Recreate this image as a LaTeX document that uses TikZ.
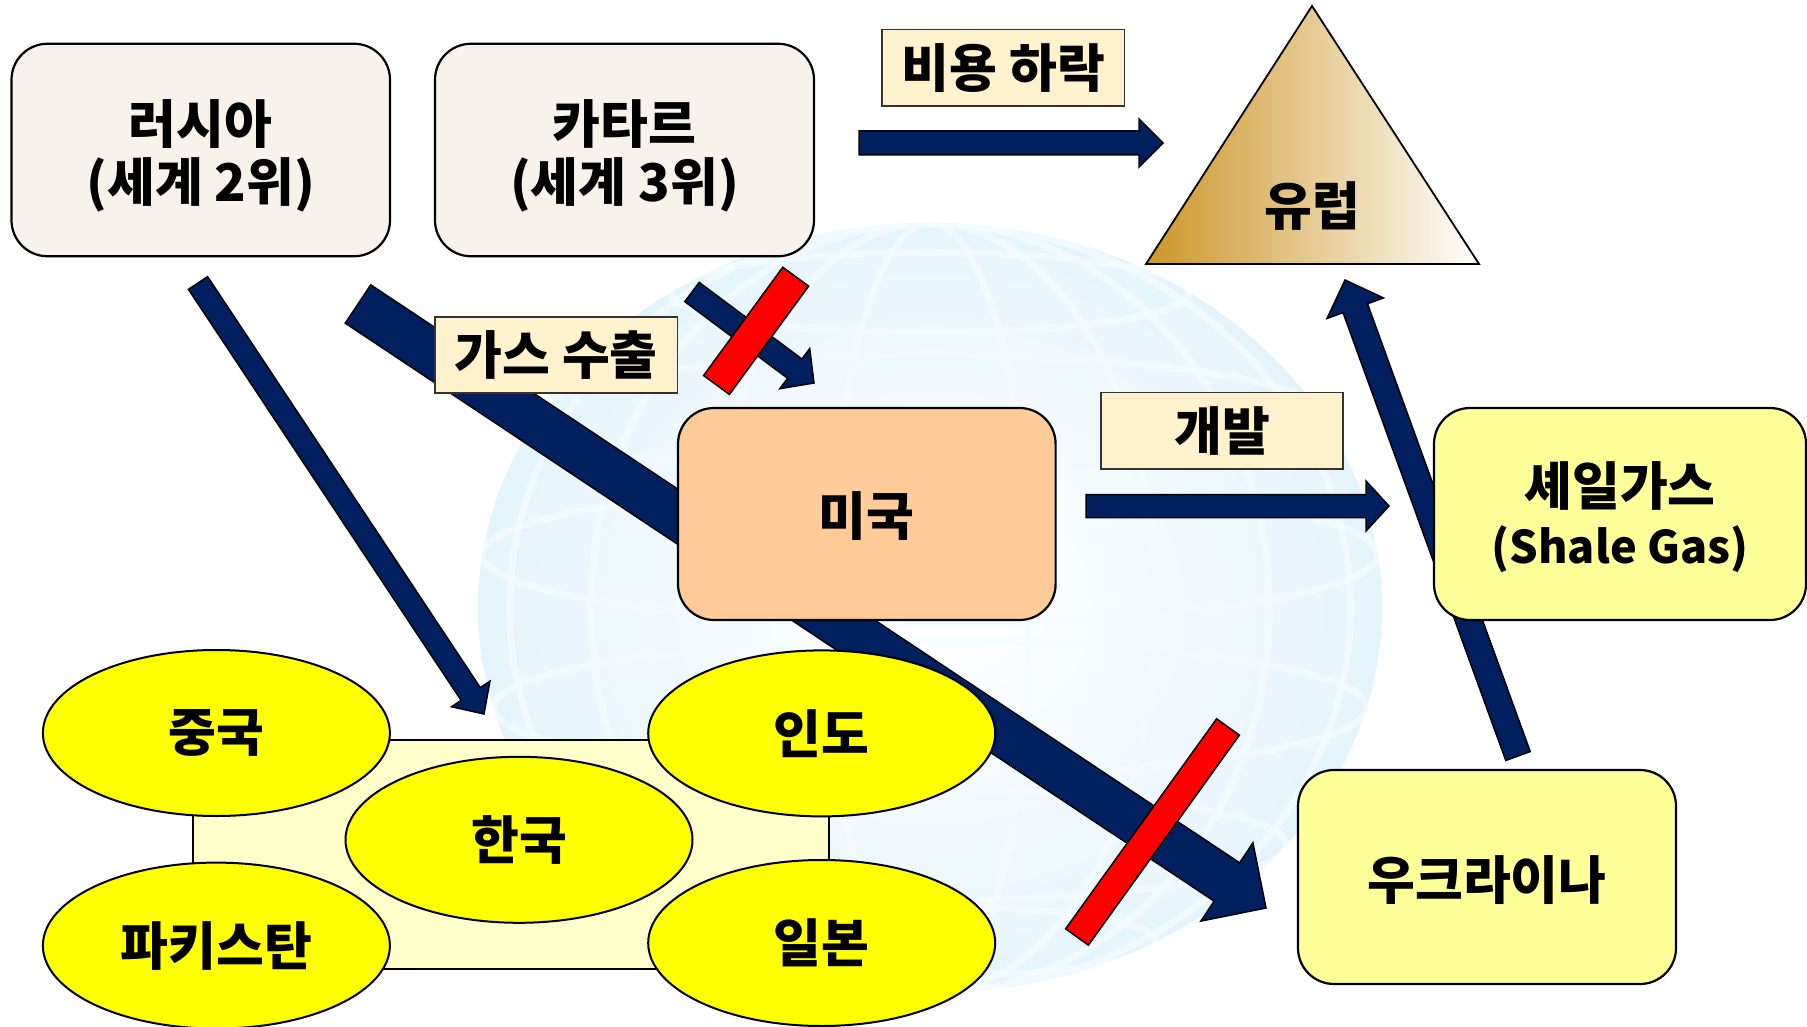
\documentclass[tikz,border=0pt]{standalone}
\usepackage{fontspec}
\setmainfont{Noto Sans CJK KR}
\newfontfamily\krheavy{Noto Sans CJK KR Black}
\usetikzlibrary{calc,shapes.geometric}
\definecolor{arrownavy}{RGB}{0,32,96}
\definecolor{srcbeige}{RGB}{247,243,236}
\definecolor{labelcream}{RGB}{255,242,204}
\definecolor{usapeach}{RGB}{255,204,153}
\definecolor{boxyellow}{RGB}{255,255,153}
\definecolor{bgyellow}{RGB}{255,255,204}
\definecolor{ellyellow}{RGB}{255,255,0}
\definecolor{eurogold}{RGB}{204,150,40}
\definecolor{globeA}{RGB}{238,248,253}
\definecolor{globeB}{RGB}{208,237,250}
\definecolor{globeline}{RGB}{245,252,255}
\pgfdeclareradialshading{globeshade}{\pgfpoint{0bp}{0bp}}{color(0bp)=(white); color(18bp)=(globeA); color(38bp)=(globeB); color(46bp)=(globeB); color(50bp)=(white); color(100bp)=(white)}
\newcommand\BArrow[6]{% id, tail, tip, half shaft, half head, head length
  \coordinate (#1-b) at ($(#3)!#6!(#2)$);
  \draw[blockarrow] ($(#2)!#4!90:(#3)$) -- ($(#1-b)!#4!90:(#3)$) -- ($(#1-b)!#5!90:(#3)$) -- (#3) -- ($(#1-b)!#5!-90:(#3)$) -- ($(#1-b)!#4!-90:(#3)$) -- ($(#2)!#4!-90:(#3)$) -- cycle;
}
\newcommand\RedBar[3]{% end A, end B, half width
  \draw[redbar] ($(#1)!#3!90:(#2)$) -- ($(#2)!#3!-90:(#1)$) -- ($(#2)!#3!90:(#1)$) -- ($(#1)!#3!-90:(#2)$) -- cycle;
}
\tikzset{
  txt/.style={font=\krheavy\fontsize{52}{58}\selectfont, text=black, align=center, inner sep=0pt},
  boxbase/.style={draw=black, line width=2.2pt, rounded corners=36pt},
  srcbox/.style={boxbase, fill=srcbeige},
  usabox/.style={boxbase, fill=usapeach},
  ybox/.style={boxbase, fill=boxyellow},
  lbl/.style={txt, draw=black!80, line width=1.6pt, fill=labelcream},
  country/.style={txt, ellipse, draw=black, line width=2pt, fill=ellyellow, minimum width=347pt, minimum height=166pt},
  blockarrow/.style={fill=arrownavy, draw=black, line width=1.5pt, line join=miter},
  redbar/.style={fill=red, draw=black, line width=1.5pt, line join=miter},
}
\begin{document}
\begin{tikzpicture}[x=1pt,y=-1pt]
\useasboundingbox (0,0) rectangle (1807,1027);
\fill[white] (0,0) rectangle (1807,1027);
% globe background
\begin{scope}
  \clip (930,608) ellipse [x radius=452, y radius=385];
  \shade[shading=globeshade] (930,608) ellipse [x radius=452, y radius=385];
  \foreach \r in {0.22,0.5,0.75,0.93}
    \draw[globeline, line width=7pt, opacity=0.7] (930,608) ellipse [x radius=452*\r, y radius=385];
  \foreach \lat in {-55,-30,-8,15,38,60}
    \draw[globeline, line width=7pt, opacity=0.7] ({930},{608+385*sin(\lat)}) ellipse [x radius={452*cos(\lat)}, y radius={70*cos(\lat)}];
\end{scope}
% Korea group background
\node[draw=black, line width=1.6pt, fill=bgyellow, minimum width=636pt, minimum height=228.5pt, inner sep=0pt] (asiabg) at (511,854.5) {};
% arrow end points
\coordinate (big-t) at (358,304);   \coordinate (big-h) at (1266,908);
\coordinate (rk-t) at (198,283);    \coordinate (rk-h) at (484,714);
\coordinate (qu-t) at (692,292);    \coordinate (qu-h) at (814,383);
\coordinate (ce-t) at (859,143);    \coordinate (ce-h) at (1163,143);
\coordinate (us-t) at (1086,506);   \coordinate (us-h) at (1389,506);
\coordinate (ue-t) at (1518,756);   \coordinate (ue-h) at (1345,280);
% arrows
\BArrow{big}{big-t}{big-h}{23pt}{47pt}{47pt}
\BArrow{rk}{rk-t}{rk-h}{11.5pt}{23pt}{24pt}
\BArrow{qu}{qu-t}{qu-h}{12pt}{25pt}{24pt}
\BArrow{ce}{ce-t}{ce-h}{12pt}{24pt}{24pt}
\BArrow{us}{us-t}{us-h}{11.5pt}{25pt}{23pt}
\BArrow{ue}{ue-t}{ue-h}{13pt}{30pt}{30pt}
% boxes
\node[srcbox, minimum width=378.5pt, minimum height=212.5pt] (russia) at (200.75,150) {};
\node[txt] (russia-t) at ($(russia)+(0,6)$) {러시아\\(세계 2위)};
\node[srcbox, minimum width=379pt, minimum height=212.5pt] (qatar) at (624.5,150) {};
\node[txt] (qatar-t) at ($(qatar)+(0,6)$) {카타르\\(세계 3위)};
\node[usabox, minimum width=377.6pt, minimum height=212pt] (usa) at (866.8,514) {};
\node[txt] (usa-t) at ($(usa)+(0,2)$) {미국};
\node[ybox, minimum width=372pt, minimum height=212pt] (shale) at (1620,514) {};
\node[txt] (shale-t) at ($(shale)+(0,3)$) {셰일가스\\{\rmfamily\bfseries\fontsize{45}{55}\selectfont (Shale Gas)}};
\node[ybox, minimum width=378pt, minimum height=214pt] (ukraine) at (1487,877) {};
\node[txt] (ukraine-t) at ($(ukraine)+(0,3)$) {우크라이나};
% labels
\node[lbl, minimum width=242.7pt, minimum height=76.7pt] (cost) at (1003.3,67.7) {비용 하락};
\node[lbl, minimum width=242.4pt, minimum height=76pt] (export) at (556.2,355) {가스 수출};
\node[lbl, minimum width=242pt, minimum height=76.4pt] (dev) at (1222,430.6) {개발};
% Europe triangle
\coordinate (eu-apex) at (1312,6);
\coordinate (eu-left) at (1146,264);
\coordinate (eu-right) at (1479,264);
\draw[black, line width=1.8pt, left color=eurogold, right color=white, line join=miter] (eu-apex) -- (eu-right) -- (eu-left) -- cycle;
\node[txt] (europe) at (1312,206) {유럽};
% Asian countries
\node[country] (china) at (216.4,733) {중국};
\node[country] (india) at (821.7,733.4) {인도};
\node[country] (korea) at (519,839.8) {한국};
\node[country] (pakistan) at (216.4,945.6) {파키스탄};
\node[country] (japan) at (821.7,943) {일본};
% blocked routes
\coordinate (rb1-a) at (795.7,276.7); \coordinate (rb1-b) at (716.5,385);
\coordinate (rb2-a) at (1228,727);    \coordinate (rb2-b) at (1077,937);
\RedBar{rb1-a}{rb1-b}{16pt}
\RedBar{rb2-a}{rb2-b}{14pt}
\end{tikzpicture}
\end{document}
